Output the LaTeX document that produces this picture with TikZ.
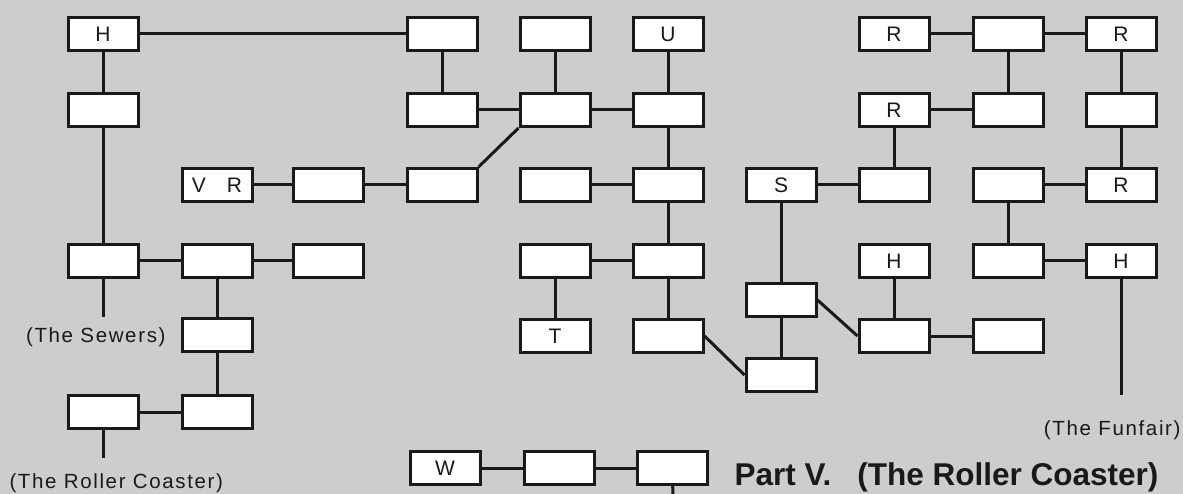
\documentclass[tikz,border=0pt]{standalone}
\usepackage{fontspec}
\setmainfont{Liberation Sans}
\newfontfamily\wayfont[LetterSpace=8]{Liberation Sans}
\definecolor{paper}{RGB}{205,205,205}
\definecolor{ink}{RGB}{25,25,25}

\begin{document}
\begin{tikzpicture}[x=1pt,y=-1pt,line width=3pt,color=ink,
    room/.style={draw,fill=white,minimum width=70pt,minimum height=33pt,inner sep=0pt,font=\fontsize{21}{24}\selectfont},
    way/.style={inner sep=0pt,font=\wayfont\fontsize{20.5}{24}\selectfont}]
    \useasboundingbox (0,0) rectangle (1183,494);
    \fill[paper] (0,0) rectangle (1183,494);
    \node[room] (a1) at (103,34) {H};
    \node[room] (a2) at (103,110) {};
    \node[room] (a4) at (103,261) {};
    \node[room] (a6) at (103,412) {};
    \node[room] (b3) at (217,185) {V\hspace{21pt}R};
    \node[room] (b4) at (217,261) {};
    \node[room] (b5) at (217,335) {};
    \node[room] (b6) at (217,412) {};
    \node[room] (c3) at (328,185) {};
    \node[room] (c4) at (328,261) {};
    \node[room] (d1) at (442,34) {};
    \node[room] (d2) at (442,110) {};
    \node[room] (d3) at (442,185) {};
    \node[room] (d7) at (445,468) {W};
    \node[room] (e1) at (555,34) {};
    \node[room] (e2) at (555,110) {};
    \node[room] (e3) at (555,185) {};
    \node[room] (e4) at (555,261) {};
    \node[room] (e5) at (555,336) {T};
    \node[room] (e7) at (559,468) {};
    \node[room] (f1) at (668,34) {U};
    \node[room] (f2) at (668,110) {};
    \node[room] (f3) at (668,185) {};
    \node[room] (f4) at (668,261) {};
    \node[room] (f5) at (668,336) {};
    \node[room] (f7) at (672,468) {};
    \node[room] (g3) at (781,185) {S};
    \node[room] (g5) at (781,300) {};
    \node[room] (g6) at (781,375) {};
    \node[room] (h1) at (894,34) {R};
    \node[room] (h2) at (894,110) {R};
    \node[room] (h3) at (894,185) {};
    \node[room] (h4) at (894,261) {H};
    \node[room] (h5) at (894,336) {};
    \node[room] (i1) at (1008,34) {};
    \node[room] (i2) at (1008,110) {};
    \node[room] (i3) at (1008,185) {};
    \node[room] (i4) at (1008,261) {};
    \node[room] (i5) at (1008,336) {};
    \node[room] (j1) at (1121,34) {R};
    \node[room] (j2) at (1121,110) {};
    \node[room] (j3) at (1121,185) {R};
    \node[room] (j4) at (1121,261) {H};
    \node[way,anchor=base east] (sewers) at (167,342) {(The Sewers)};
    \node[way,anchor=base west] (coaster) at (8,488) {(The Roller Coaster)};
    \node[way,anchor=base east] (funfair) at (1182,435) {(The Funfair)};
    \node[inner sep=0pt,anchor=base west,font=\fontsize{31.5}{32}\selectfont\bfseries] (title) at (733,485) {Part V.\hspace{26pt}(The Roller Coaster)};
    \coordinate (toSewers) at (103,317);
    \coordinate (toCoaster) at (103,458);
    \coordinate (toFunfair) at (1121,395);
    \coordinate (down) at (673,494);
    \draw (a1) -- (d1);
    \draw (a1) -- (a2);
    \draw (a2) -- (a4);
    \draw (a4) -- (toSewers);
    \draw (a4) -- (b4);
    \draw (b4) -- (c4);
    \draw (b4) -- (b5);
    \draw (b5) -- (b6);
    \draw (a6) -- (b6);
    \draw (a6) -- (toCoaster);
    \draw (b3) -- (c3);
    \draw (c3) -- (d3);
    \draw (d3.north east) -- (e2.south west);
    \draw (d1) -- (d2);
    \draw (d2) -- (e2);
    \draw (e1) -- (e2);
    \draw (e2) -- (f2);
    \draw (f1) -- (f2);
    \draw (f2) -- (f3);
    \draw (e3) -- (f3);
    \draw (f3) -- (f4);
    \draw (e4) -- (f4);
    \draw (e4) -- (e5);
    \draw (f4) -- (f5);
    \draw (f5.east) -- (g6.west);
    \draw (g3) -- (g5);
    \draw (g5) -- (g6);
    \draw (g5.east) -- (h5.west);
    \draw (g3) -- (h3);
    \draw (h3) -- (h2);
    \draw (h2) -- (i2);
    \draw (i1) -- (i2);
    \draw (h1) -- (i1);
    \draw (i1) -- (j1);
    \draw (j1) -- (j2);
    \draw (j2) -- (j3);
    \draw (i3) -- (j3);
    \draw (i3) -- (i4);
    \draw (i4) -- (j4);
    \draw (j4) -- (toFunfair);
    \draw (h4) -- (h5);
    \draw (h5) -- (i5);
    \draw (d7) -- (e7);
    \draw (e7) -- (f7);
    \draw (f7) -- (down);
\end{tikzpicture}
\end{document}
